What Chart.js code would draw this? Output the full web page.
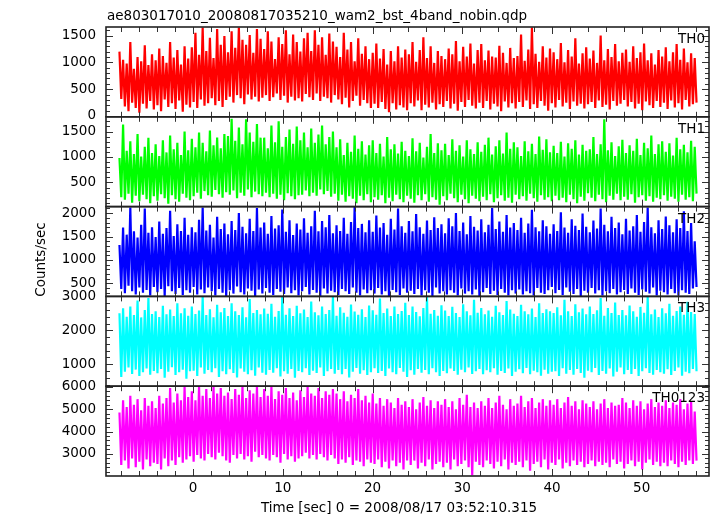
<!DOCTYPE html>
<html><head><meta charset="utf-8">
<script src="https://cdn.jsdelivr.net/npm/chart.js@4.4.1/dist/chart.umd.min.js"></script>
<style>html,body{margin:0;padding:0;background:#fff;overflow:hidden}#wrap{position:relative;width:717px;height:516px}</style>
</head><body><div id="wrap"><canvas id="c" width="717" height="516"></canvas></div>
<script>
const plotTitle = 'ae803017010_20080817035210_wam2_bst_4band_nobin.qdp';
const xAxisTitle = 'Time [sec] 0 = 2008/08/17 03:52:10.315';
const yAxisTitle = 'Counts/sec';
const panelLabels = ['TH0', 'TH1', 'TH2', 'TH3', 'TH0123'];
const panelColors = ['#ff0000', '#00ff00', '#0000ff', '#00ffff', '#ff00ff'];
const xTickValues = [0, 10, 20, 30, 40, 50];
const yTickValues = [
  [0, 500, 1000, 1500],
  [500, 1000, 1500],
  [500, 1000, 1500, 2000],
  [1000, 2000, 3000],
  [3000, 4000, 5000, 6000]
];
const binStart = -8.2;
const binWidth = 0.2016;

const th0 = [
1200,320,1050,180,980,90,1380,250,880,150,1100,60,1020,230,1320,140,950,280,1150,120,
1040,200,1260,90,1120,310,990,170,1380,240,1090,130,1230,290,960,80,1300,210,1070,160,
1280,260,1550,150,1140,310,1650,190,1210,240,1460,330,1080,200,1620,280,1330,170,1490,300,
1190,360,1580,250,1270,390,1650,330,1420,220,1330,400,1510,310,1180,360,1620,270,1440,340,
1250,390,1580,280,1390,350,1060,420,1470,300,1340,380,1600,250,1150,360,1520,290,1380,330,
1200,270,1450,410,1550,350,1210,300,1600,420,1330,280,1470,360,1140,330,1540,250,1390,390,
1290,310,1100,220,1550,340,1240,160,1380,280,1020,380,1450,190,1160,300,1300,240,1060,150,
1180,230,1350,150,1070,260,1250,130,960,70,1210,240,1020,120,1300,200,1090,160,1240,110,
1150,240,1380,180,1010,290,1230,110,1470,210,1080,160,1300,250,990,120,1210,220,1120,170,
1060,280,1260,140,1150,230,1400,100,1020,260,1290,170,1110,300,1350,190,980,140,1230,250,
1340,150,1040,280,1220,120,1110,230,1090,180,1310,90,1180,270,990,160,1270,240,1080,140,
1120,260,1520,170,1030,290,1240,130,1650,220,1160,150,1010,280,1300,190,1090,100,1260,240,
1190,160,1060,300,1360,180,1000,250,1230,130,1110,270,1450,190,980,230,1170,140,1280,220,
1070,260,1220,150,990,290,1500,170,1040,210,1250,120,1100,280,1340,190,1020,230,1180,300,
1240,180,1010,260,1300,140,1080,230,1190,110,1350,270,1040,200,1170,150,960,280,1230,170,
1110,250,1280,130,1020,290,1190,160,1340,240,1050,120,1260,300,1000,180,1170,220,1080,250
];
const th1 = [
980,210,1640,160,1120,280,1310,100,1060,240,1450,130,1010,260,1200,170,1380,90,1080,230,
1250,140,1020,270,1330,190,1090,80,1420,250,1150,170,1280,120,1040,280,1500,200,1130,150,
1360,230,1190,300,1480,180,1280,330,1110,250,1520,220,1230,350,1380,270,1170,200,1450,310,
1410,260,1750,340,1320,190,1580,300,1250,240,1740,360,1480,210,1300,320,1650,270,1380,230,
1380,300,1170,210,1620,280,1290,180,1700,260,1200,150,1390,290,1540,230,1260,170,1600,250,
1330,260,1480,340,1190,230,1560,300,1280,240,1440,360,1620,270,1250,330,1390,220,1500,280,
1190,140,1350,260,1040,120,1280,230,1100,180,1420,90,1160,240,1310,150,1050,270,1230,110,
1330,210,1080,160,1260,250,1010,90,1390,200,1150,130,1250,260,1070,170,1300,110,1120,240,
1020,180,1370,100,1110,250,1280,150,990,270,1200,120,1450,210,1080,160,1270,60,1130,230,
1260,150,1040,280,1350,190,1120,110,1230,260,1010,170,1330,90,1150,240,1060,180,1290,130,
1100,220,1240,150,1380,270,1050,110,1210,190,1330,250,1070,140,1480,200,1160,100,1290,260,
1190,170,1020,230,1310,140,1110,280,1260,190,1060,120,1400,250,1140,160,1350,210,1090,130,
1220,240,1080,150,1300,200,1010,110,1270,260,1160,170,1330,90,1050,220,1240,140,1120,290,
1150,200,1390,130,1060,260,1250,170,1740,110,1130,240,1290,160,1020,280,1210,150,1340,220,
1080,160,1230,270,1120,100,1360,210,1040,250,1280,140,1170,230,1420,120,1060,200,1250,170,
1310,250,1100,140,1270,220,1030,180,1380,120,1150,260,1240,160,1090,210,1320,130,1200,280
];
const th2 = [
1320,380,1690,290,1540,450,2120,330,1610,260,1480,410,1750,300,2100,360,1580,240,1700,420,
1490,310,1820,380,1560,230,1680,440,2050,330,1510,270,1760,400,1620,250,1900,350,1540,300,
1700,420,1590,260,1860,370,2120,290,1630,410,1750,330,1480,240,1920,380,1660,300,1780,230,
1550,350,1830,280,1640,430,2000,310,1710,260,1570,390,1880,340,1620,220,2110,370,1690,280,
1800,400,1560,300,1940,250,1670,380,1740,320,2080,270,1600,410,1850,290,1530,350,1780,240,
1650,330,1890,420,1580,260,1720,360,2050,300,1610,230,1830,390,1700,280,1960,340,1570,310,
1740,250,1620,380,1900,330,1560,270,1810,410,2130,300,1680,240,1770,370,1590,290,1850,350,
1600,280,1950,400,1690,260,1790,330,1540,230,1880,360,1650,310,2100,250,1720,390,1580,300,
1830,340,1610,270,1980,380,1700,240,1560,350,1840,300,1640,230,1910,410,1680,280,1760,330,
1570,260,1890,350,1720,300,2000,240,1620,390,1800,280,1550,330,1940,260,1710,370,1630,230,
1870,310,1590,400,1750,270,2110,340,1660,250,1820,380,1600,300,1960,240,1690,350,1790,280,
1640,370,1900,260,1580,330,1780,290,2070,240,1700,400,1610,300,1850,270,1720,350,1560,420,
1760,290,1620,360,2020,250,1690,410,1580,320,1870,270,1730,380,1640,230,1990,340,1710,300,
1590,400,1840,280,1670,350,2100,240,1750,330,1610,290,1920,380,1680,260,1800,310,1550,360,
1880,270,1630,390,1720,300,1960,250,1600,370,1810,320,2120,280,1700,410,1570,240,1850,340,
1660,310,1930,260,1740,380,1590,290,1870,240,1680,350,2040,300,1620,270,1790,390,1400,420
];
const th3 = [
2500,620,2650,780,2400,900,2700,710,2450,840,2880,650,2380,760,2600,870,2950,690,2480,800,
2560,730,2390,860,2720,600,2470,780,2610,910,2420,680,2800,760,2500,840,2650,570,2430,790,
2700,810,2480,650,2580,900,2990,720,2450,830,2620,760,2380,880,2750,620,2530,790,2660,700,
2420,850,2800,740,2560,610,2450,870,2680,780,2380,700,2920,820,2510,660,2600,900,2470,750,
2640,690,2490,830,2780,750,2400,880,2570,640,2990,790,2460,720,2650,860,2420,600,2720,800,
2500,760,2610,880,2390,680,2850,810,2530,740,2440,900,2700,650,2480,790,2600,860,2980,720,
2430,830,2680,700,2520,860,2400,610,2760,780,2550,890,2460,720,2620,820,2390,680,2730,760,
2590,880,2460,740,2940,800,2510,650,2640,870,2420,760,2700,700,2480,890,2570,780,2810,620,
2450,820,2700,690,2540,860,2410,750,2660,830,2980,700,2490,880,2600,760,2430,650,2740,800,
2580,730,2420,870,2690,800,2510,690,2390,840,2770,760,2560,900,2440,710,2900,790,2520,860,
2660,700,2470,820,2580,760,2400,880,2720,690,2530,800,2450,740,2860,870,2610,650,2490,780,
2420,850,2750,730,2560,890,2470,700,2640,810,2390,760,2800,660,2510,840,2620,720,2560,780,
2510,790,2680,650,2440,880,2900,720,2560,830,2420,690,2770,860,2530,740,2640,600,2470,810,
2700,760,2480,890,2590,680,2950,800,2430,720,2660,870,2510,640,2820,780,2450,900,2600,700,
2440,830,2730,710,2560,860,2400,650,2690,790,2520,880,2980,740,2470,690,2610,830,2390,760,
2650,720,2500,850,2780,680,2430,800,2570,900,2700,660,2460,780,2840,730,2540,860,2480,790
];
const th0123 = [
4850,2500,5400,2700,5100,2350,5600,2800,5200,2400,5450,2650,4950,2300,5500,2750,5150,2450,5350,2600,
5050,2550,5600,2300,5250,2800,5500,2450,5950,2700,5300,2500,5700,2850,5400,2600,6000,2750,5550,2900,
5800,2650,5400,2950,6000,2800,5600,2700,5900,3000,5500,2850,6000,2750,5700,3050,5950,2900,5600,2700,
5750,2600,5450,2950,5900,2800,5650,3000,6000,2750,5500,2900,5850,2650,5700,3100,6000,2850,5550,2950,
5900,2800,5600,2700,6000,2950,5450,2850,5800,2600,5650,3000,5950,2750,5500,2900,5750,2650,5400,2800,
5850,2900,5550,3050,6000,2800,5700,2950,5600,2750,5950,3000,5500,2850,5800,2700,5650,2950,5900,2800,
5700,2550,5450,2750,5800,2600,5350,2850,5650,2500,5500,2700,5900,2650,5400,2450,5600,2750,5300,2600,
5700,2550,5250,2750,5500,2400,5150,2650,5450,2350,5300,2700,5050,2450,5500,2600,5200,2300,5350,2700,
5100,2500,5450,2700,5000,2350,5300,2600,5550,2450,5150,2750,5400,2300,5050,2550,5350,2650,5200,2400,
5450,2600,5100,2300,5350,2750,5000,2450,5500,2550,5200,2700,5650,2400,5100,2050,5300,2650,5050,2500,
5350,2400,5150,2700,5500,2550,5050,2350,5300,2650,5600,2450,5200,2750,5000,2300,5450,2600,5150,2500,
5250,2650,5600,2400,5100,2700,5350,2250,5500,2550,5050,2650,5300,2400,5450,2750,5150,2300,5400,2600,
5200,2500,5450,2750,5050,2350,5300,2600,5550,2450,5150,2700,5350,2500,5000,2650,5400,2400,5250,2550,
5100,2700,5350,2450,5000,2650,5250,2500,5450,2600,5050,2400,5300,2750,5150,2550,5200,2650,5500,2350,
5300,2550,5050,2700,5400,2450,5150,2650,5350,2300,5000,2600,5250,2750,5450,2500,5100,2650,5300,2450,
5150,2600,5400,2450,5050,2700,5300,2550,5200,2400,5450,2650,5000,2500,5250,2700,5350,2550,4900,2700
];

const series = [th0, th1, th2, th3, th0123];
const yRanges = [[-15, 1660], [25, 1790], [220, 2140], [350, 3000], [2010, 6030]];
const yMinorStep = [100, 100, 100, 200, 200];
const yMajorStep = [500, 500, 500, 1000, 1000];

const FONT = 'DejaVu Sans';
Chart.defaults.font.family = FONT;
Chart.defaults.font.size = 13.5;
Chart.defaults.color = '#000';

const datasets = series.map((vals, k) => ({
  label: panelLabels[k],
  data: vals.map((v, i) => ({ x: binStart + i * binWidth, y: v })),
  yAxisID: 'y' + k,
  borderColor: panelColors[k],
  backgroundColor: panelColors[k],
  borderWidth: 2.2,
  borderJoinStyle: 'miter',
  pointRadius: 0,
  tension: 0,
  fill: false
}));

const scales = {
  x: {
    type: 'linear', position: 'bottom', min: -9.7, max: 57.5,
    afterFit(s) { s.height = 40; },
    afterBuildTicks(s) { s.ticks = xTickValues.map(v => ({ value: v })); },
    grid: { display: false, drawTicks: false },
    border: { display: false },
    ticks: { autoSkip: false, maxRotation: 0, padding: 4, font: { size: 13.5 }, callback: v => String(v) }
  }
};
for (let k = 4; k >= 0; k--) {
  scales['y' + k] = {
    type: 'linear', position: 'left', stack: 'panels', stackWeight: 1,
    min: yRanges[k][0], max: yRanges[k][1],
    afterFit(s) { s.width = 106; },
    afterBuildTicks(s) { s.ticks = yTickValues[k].map(v => ({ value: v })); },
    grid: { display: false, drawTicks: false },
    border: { display: false },
    ticks: { autoSkip: false, padding: 10, font: { size: 13.5 }, callback: v => String(v) }
  };
}

const framePlugin = {
  id: 'qdpFrame',
  afterDraw(chart) {
    const ctx = chart.ctx;
    const xs = chart.scales.x;
    const L = chart.chartArea.left, R = chart.chartArea.right;
    ctx.save();
    for (let k = 0; k < 5; k++) {
      const ys = chart.scales['y' + k];
      const top = ys.top, bottom = ys.bottom;
      ctx.strokeStyle = '#333';
      ctx.lineWidth = 1;
      ctx.beginPath();
      const ms = yMinorStep[k];
      for (let v = Math.ceil(ys.min / ms) * ms; v <= ys.max; v += ms) {
        const py = Math.round(ys.getPixelForValue(v)) + 0.5;
        const len = (v % yMajorStep[k] === 0) ? 7 : 4;
        ctx.moveTo(L, py); ctx.lineTo(L + len, py);
        ctx.moveTo(R, py); ctx.lineTo(R - len, py);
      }
      for (let v = Math.ceil(xs.min / 2) * 2; v <= xs.max; v += 2) {
        const px = Math.round(xs.getPixelForValue(v)) + 0.5;
        const len = (v % 10 === 0) ? 7 : 5;
        ctx.moveTo(px, top); ctx.lineTo(px, top + len);
        ctx.moveTo(px, bottom); ctx.lineTo(px, bottom - len);
      }
      ctx.stroke();
      ctx.lineWidth = 1.6;
      ctx.strokeStyle = '#222';
      ctx.strokeRect(L, top, R - L, bottom - top);
      ctx.fillStyle = '#000';
      ctx.font = '13.5px "' + FONT + '"';
      ctx.textAlign = 'right';
      ctx.textBaseline = 'alphabetic';
      ctx.fillText(panelLabels[k], R - 4, top + 16);
    }
    ctx.font = '13.5px "' + FONT + '"';
    ctx.textAlign = 'left';
    ctx.textBaseline = 'alphabetic';
    ctx.fillText(plotTitle, 107, 20);
    ctx.textAlign = 'center';
    ctx.fillText(xAxisTitle, 399, 512);
    ctx.translate(41, 259.5);
    ctx.rotate(-Math.PI / 2);
    ctx.textBaseline = 'middle';
    ctx.fillText(yAxisTitle, 0, 0);
    ctx.restore();
  }
};

new Chart(document.getElementById('c'), {
  type: 'line',
  data: { datasets },
  options: {
    responsive: false,
    animation: false,
    devicePixelRatio: 1,
    layout: { padding: { left: 0, right: 8, top: 27, bottom: 0 } },
    plugins: { legend: { display: false }, tooltip: { enabled: false }, title: { display: false } },
    scales
  },
  plugins: [framePlugin]
});
</script>
</body></html>
